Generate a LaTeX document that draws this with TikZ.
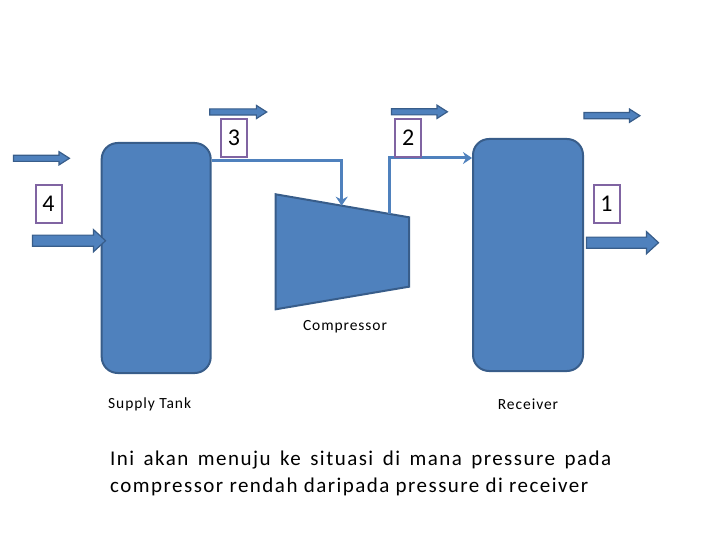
\documentclass[tikz,border=0pt]{standalone}
\usepackage{fontspec}
\setmainfont{Carlito}
\newfontfamily\lblfont[LetterSpace=6]{Carlito}
\newfontfamily\bodyfont[LetterSpace=7]{Carlito}
\usetikzlibrary{shapes.arrows,arrows.meta,calc}
\definecolor{fillblue}{HTML}{4F81BD}
\definecolor{edgeblue}{HTML}{385D8A}
\definecolor{boxpurple}{HTML}{8064A2}
\begin{document}
\begin{tikzpicture}[x=1pt,y=-1pt,
  tank/.style={draw=edgeblue,fill=fillblue,line width=2pt,rounded corners=16pt,inner sep=0pt},
  comp/.style={draw=edgeblue,fill=fillblue,line width=2pt,line join=miter},
  numbox/.style={draw=boxpurple,line width=2pt,fill=white,minimum width=26pt,minimum height=38pt,inner sep=0pt,font=\fontsize{24}{28}\selectfont},
  smallarrow/.style={single arrow,draw=edgeblue,fill=fillblue,line width=1.2pt,inner xsep=0pt,inner ysep=2.5pt,
     minimum width=0pt,single arrow head extend=3.5pt,single arrow tip angle=65,minimum height=#1},
  bigarrow/.style={single arrow,draw=edgeblue,fill=fillblue,line width=1.2pt,inner xsep=0pt,inner ysep=5pt,
     minimum width=0pt,single arrow head extend=5.5pt,single arrow tip angle=85,minimum height=#1},
  pipe/.style={draw=fillblue,line width=3pt,-{Stealth[length=9pt,width=12pt,inset=3pt]}},
  lbl/.style={font=\lblfont\fontsize{15.5}{18}\selectfont,inner sep=0pt}]
\useasboundingbox (0,0) rectangle (720,540);

% vessels
\node[tank,minimum width=109pt,minimum height=230pt] (st) at (156.2,258) {};
\node[tank,minimum width=110pt,minimum height=232pt] (rc) at (528,255) {};

% compressor
\draw[comp] (275.7,194.3) coordinate (c1) -- (409,217.3) coordinate (c2)
  -- (409,286.7) coordinate (c3) -- (275.7,309.3) coordinate (c4) -- cycle;
\coordinate (cin) at ($(c1)!0.495!(c2)$);
\coordinate (cout) at ($(c1)!0.857!(c2)$);

% pipes
\draw[pipe] ($(st.north east)+(0,18.7)$) -| (cin);
\draw[pipe] (cout) |- ($(rc.north west)+(0,20)$);

% number boxes
\node[numbox] (n3) at (234,138) {3};
\node[numbox] (n2) at (408.3,137.7) {2};
\node[numbox] (n4) at (48.5,204) {4};
\node[numbox] (n1) at (606.5,203.7) {1};

% flow arrows
\node[smallarrow=57pt] (a1) at (235.8,112) {};
\node[smallarrow=56pt] (a2) at (417,111.8) {};
\node[smallarrow=56pt] (a3) at (609.5,115.7) {};
\node[smallarrow=56pt] (a4) at (39,158.3) {};
\node[bigarrow=73pt] (ain) at (66,240.7) {};
\node[bigarrow=72pt] (aout) at (619.5,242.7) {};

% labels
\node[lbl,anchor=west] (lst) at (108,404) {Supply Tank};
\node[lbl] (lrc) at (528,404) {Receiver};
\node[lbl] (lcp) at (345,327) {Compressor};

\node[anchor=north west,text width=501pt,align=justify,inner sep=0pt,
  font=\bodyfont\fontsize{21}{27}\selectfont] (txt) at (110,451)
  {Ini akan menuju ke situasi di mana pressure pada\linebreak compressor rendah daripada pressure di receiver};
\end{tikzpicture}
\end{document}
